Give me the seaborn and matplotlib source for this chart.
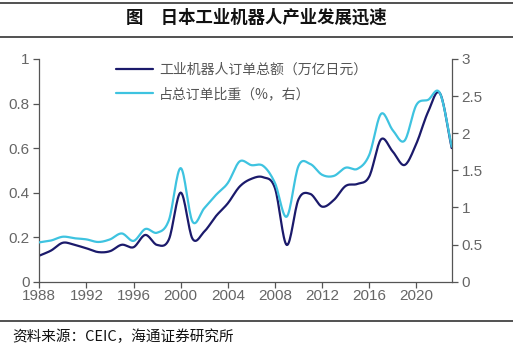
import numpy as np
import pandas as pd
import matplotlib
matplotlib.use("Agg")
import matplotlib.pyplot as plt
import seaborn as sns
from matplotlib.lines import Line2D

years = list(range(1988, 2024))
orders = [0.117, 0.14, 0.175, 0.165, 0.15, 0.133, 0.137, 0.166, 0.155, 0.21,
          0.165, 0.19, 0.40, 0.193, 0.225, 0.295, 0.352, 0.427, 0.462, 0.469,
          0.42, 0.165, 0.37, 0.394, 0.337, 0.367, 0.43, 0.439, 0.472, 0.639,
          0.584, 0.524, 0.62, 0.763, 0.846, 0.60]
share = [0.53, 0.555, 0.606, 0.585, 0.57, 0.535, 0.57, 0.65, 0.55, 0.71,
         0.66, 0.83, 1.53, 0.81, 0.99, 1.17, 1.33, 1.62, 1.57, 1.56,
         1.33, 0.876, 1.56, 1.585, 1.44, 1.425, 1.536, 1.52, 1.707, 2.26,
         2.04, 1.90, 2.38, 2.45, 2.54, 1.82]
xticks = [1988, 1992, 1996, 2000, 2004, 2008, 2012, 2016, 2020]
label_orders = "工业机器人订单总额（万亿日元）"
label_share = "占总订单比重（%，右）"
title = "图　日本工业机器人产业发展迅速"
source = "资料来源：CEIC，海通证券研究所"


def smooth(x, y, n=16):
    x = np.asarray(x, float)
    y = np.asarray(y, float)
    px = np.concatenate([[2 * x[0] - x[1]], x, [2 * x[-1] - x[-2]]])
    py = np.concatenate([[2 * y[0] - y[1]], y, [2 * y[-1] - y[-2]]])
    xs, ys = [], []
    t = np.linspace(0, 1, n, endpoint=False)
    for i in range(1, len(px) - 2):
        def f(a0, a1, a2, a3):
            return 0.5 * ((2 * a1) + (-a0 + a2) * t +
                          (2 * a0 - 5 * a1 + 4 * a2 - a3) * t ** 2 +
                          (-a0 + 3 * a1 - 3 * a2 + a3) * t ** 3)
        xs.append(f(px[i - 1], px[i], px[i + 1], px[i + 2]))
        ys.append(f(py[i - 1], py[i], py[i + 1], py[i + 2]))
    xs.append([x[-1]])
    ys.append([y[-1]])
    return np.concatenate(xs), np.concatenate(ys)


sns.set_theme(style="white")
plt.rcParams['font.family'] = ['Liberation Sans', 'Noto Sans CJK SC', 'DejaVu Sans']

fig = plt.figure(figsize=(5.13, 3.48), dpi=100)
ax = fig.add_axes([0.0766, 0.1905, 0.8039, 0.64])
ax2 = ax.twinx()

navy = "#1b1a6b"
cyan = "#3ec3e0"

sx, sy = smooth(years, orders)
d1 = pd.DataFrame({"x": sx, "y": sy})
sx2, sy2 = smooth(years, share)
d2 = pd.DataFrame({"x": sx2, "y": sy2})
sns.lineplot(data=d1, x="x", y="y", ax=ax, color=navy, lw=1.6, sort=False)
sns.lineplot(data=d2, x="x", y="y", ax=ax2, color=cyan, lw=1.6, sort=False)

ax.set_xlim(1988, 2023)
ax.set_ylim(0, 1)
ax2.set_ylim(0, 3)
ax.set_xticks(xticks)
ax.set_xticklabels([str(v) for v in xticks])
ax.set_yticks([0, 0.2, 0.4, 0.6, 0.8, 1])
ax.set_yticklabels(["0", "0.2", "0.4", "0.6", "0.8", "1"])
ax2.set_yticks([0, 0.5, 1, 1.5, 2, 2.5, 3])
ax2.set_yticklabels(["0", "0.5", "1", "1.5", "2", "2.5", "3"])
ax.set_xlabel("")
ax.set_ylabel("")
ax2.set_ylabel("")

spine_c = "#555555"
tick_c = "#666666"
for a in (ax, ax2):
    for s in a.spines.values():
        s.set_visible(False)
    a.grid(False)
ax.spines['left'].set_visible(True)
ax.spines['bottom'].set_visible(True)
ax2.spines['right'].set_visible(True)
for s in (ax.spines['left'], ax.spines['bottom'], ax2.spines['right']):
    s.set_color(spine_c)
    s.set_linewidth(0.9)
ax.tick_params(axis='both', which='both', direction='out', length=4, width=0.9,
               color=spine_c, labelcolor=tick_c, labelsize=11, pad=3)
ax.tick_params(axis='x', labelsize=11, pad=1.5)
ax2.tick_params(axis='y', direction='out', length=4, width=0.9,
                color=spine_c, labelcolor=tick_c, labelsize=11, pad=3)
ax.tick_params(left=True, bottom=True)
ax2.tick_params(right=True)

handles = [Line2D([], [], color=navy, lw=1.6), Line2D([], [], color=cyan, lw=1.6)]
leg = ax.legend(handles, [label_orders, label_share], loc='upper left',
                bbox_to_anchor=(0.155, 1.04), frameon=False, handlelength=2.7,
                handletextpad=0.4, labelspacing=0.75,
                prop={'family': ['Noto Sans CJK SC'], 'size': 10})
for t in leg.get_texts():
    t.set_color("#555555")

fig.text(0.5, 1 - 18 / 348, title, ha='center', va='center',
         fontsize=12.5, fontweight='bold', family=['Noto Sans CJK SC'], color="#111111")
for yy in (3, 37, 321):
    fig.add_artist(Line2D([0, 1], [1 - yy / 348, 1 - yy / 348], color="#222222", lw=1.1))
fig.text(12 / 513, 1 - 337 / 348, source, ha='left', va='center', fontsize=10.5,
         family=['Noto Sans CJK SC'], color="#111111")

fig.savefig("out.png", dpi=100)
